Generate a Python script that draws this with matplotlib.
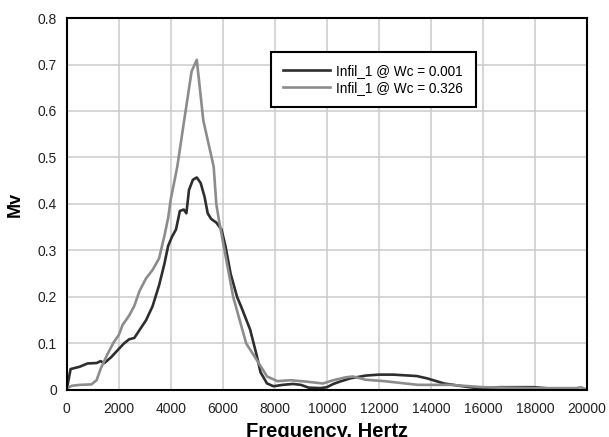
import matplotlib.pyplot as plt

plt.rcParams['font.family'] = ['Liberation Sans', 'DejaVu Sans']

# Infil_1 @ Wc = 0.001
freq_a = [0, 150, 500, 800, 1150, 1300, 1450, 1700, 1950, 2200, 2400, 2600, 2800,
          3050, 3300, 3550, 3750, 3900, 4050, 4200, 4350, 4500, 4600, 4700, 4850,
          5000, 5150, 5300, 5420, 5550, 5750, 5950, 6100, 6300, 6550, 6700, 7050,
          7300, 7450, 7700, 7950, 8300, 8700, 9000, 9300, 9750, 10000, 10250,
          10500, 10900, 11500, 12000, 12550, 13450, 13850, 14500, 15100, 15750,
          16650, 17950, 18600]
mv_a = [0, 0.045, 0.05, 0.057, 0.058, 0.062, 0.058, 0.07, 0.085, 0.1, 0.109,
        0.112, 0.129, 0.15, 0.18, 0.225, 0.27, 0.31, 0.33, 0.345, 0.385, 0.388,
        0.38, 0.43, 0.452, 0.457, 0.445, 0.415, 0.38, 0.368, 0.36, 0.345, 0.31,
        0.25, 0.2, 0.18, 0.13, 0.075, 0.038, 0.014, 0.008, 0.011, 0.013, 0.011,
        0.005, 0.004, 0.006, 0.013, 0.018, 0.025, 0.031, 0.033, 0.033, 0.03,
        0.025, 0.014, 0.009, 0.004, 0.006, 0.006, 0.003]

# Infil_1 @ Wc = 0.326
freq_b = [0, 200, 500, 950, 1150, 1300, 1550, 1800, 2000, 2150, 2400, 2600, 2800,
          3050, 3300, 3550, 3750, 3900, 4000, 4250, 4500, 4800, 5000, 5250, 5450,
          5650, 5750, 5850, 6000, 6200, 6400, 6650, 6900, 7300, 7700, 8100, 8600,
          9200, 9850, 10250, 10700, 11000, 11500, 12200, 13500, 14750, 16000,
          17950, 19600, 19750, 19900]
mv_b = [0.004, 0.009, 0.011, 0.012, 0.021, 0.045, 0.075, 0.102, 0.118, 0.14,
        0.16, 0.181, 0.213, 0.24, 0.258, 0.283, 0.33, 0.37, 0.41, 0.48, 0.574,
        0.685, 0.71, 0.58, 0.53, 0.48, 0.4, 0.366, 0.32, 0.26, 0.2, 0.15, 0.1,
        0.065, 0.029, 0.019, 0.021, 0.018, 0.014, 0.021, 0.027, 0.029, 0.022,
        0.019, 0.011, 0.011, 0.006, 0.004, 0.004, 0.006, 0.003]

x_ticks = [0, 2000, 4000, 6000, 8000, 10000, 12000, 14000, 16000, 18000, 20000]
y_ticks = [0, 0.1, 0.2, 0.3, 0.4, 0.5, 0.6, 0.7, 0.8]

fig = plt.figure(figsize=(6.09, 4.37), dpi=100)
ax = fig.add_axes([0.1095, 0.1076, 0.8545, 0.8512])

ax.plot(freq_a, mv_a, color='#2e2e2e', lw=1.9, label='Infil_1 @ Wc = 0.001')
ax.plot(freq_b, mv_b, color='#8c8c8c', lw=1.9, label='Infil_1 @ Wc = 0.326')

ax.set_xlim(0, 20000)
ax.set_ylim(0, 0.8)
ax.set_xticks(x_ticks)
ax.set_yticks(y_ticks)
ax.set_yticklabels(['0', '0.1', '0.2', '0.3', '0.4', '0.5', '0.6', '0.7', '0.8'])
ax.tick_params(length=0, labelsize=10, colors='#222222')
ax.tick_params(axis='x', pad=9)
ax.tick_params(axis='y', pad=7)
ax.grid(True, color='#cccccc', lw=1.1)
ax.set_axisbelow(True)
for s in ax.spines.values():
    s.set_linewidth(1.5)
    s.set_color('black')

ax.set_xlabel('Frequency, Hertz', fontsize=14.5, fontweight='bold', labelpad=4)
ax.set_ylabel('Mv', fontsize=13, fontweight='bold', labelpad=10)

leg = ax.legend(loc='upper left', bbox_to_anchor=(0.3927, 0.9086), fontsize=9.8,
                fancybox=False, framealpha=1, edgecolor='black',
                handlelength=3.4, handletextpad=0.5, borderpad=0.9,
                labelspacing=0.2, borderaxespad=0)
leg.get_frame().set_linewidth(1.5)

fig.savefig('out.png', dpi=100)
